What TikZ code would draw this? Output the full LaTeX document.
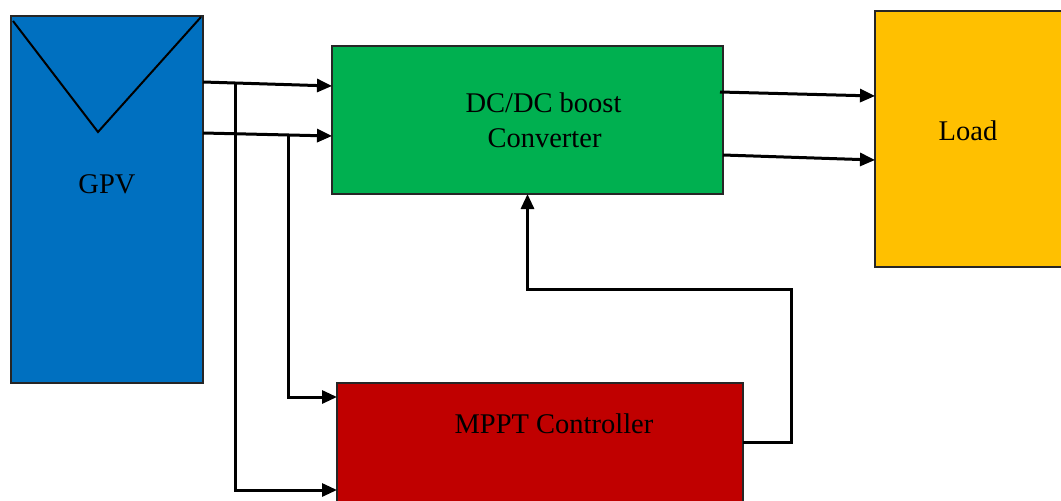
\documentclass[tikz,border=0pt]{standalone}
\usepackage{fontspec}
\setmainfont{Liberation Serif}
\usetikzlibrary{arrows.meta}
\definecolor{gpvblue}{HTML}{0070C0}
\definecolor{dcgreen}{HTML}{00B050}
\definecolor{loadgold}{HTML}{FFC000}
\definecolor{mpptred}{HTML}{C00000}
\tikzset{
  blockbox/.style={draw=black!85, line width=1.3pt, inner sep=0pt, outer sep=0pt},
  lbl/.style={anchor=base, inner sep=0pt, font=\fontsize{28.5}{34}\selectfont},
  arr/.style={line width=3pt, -{Triangle[length=15pt,width=13pt]}},
  wire/.style={line width=3pt}
}
\begin{document}
\begin{tikzpicture}[x=1pt,y=-1pt]
\clip (0,0) rectangle (1061,501);
\fill[white] (0,0) rectangle (1061,501);
% blocks
\node[blockbox, fill=gpvblue, minimum width=192pt, minimum height=367pt] (GPV) at (107,199.5) {};
\node[blockbox, fill=dcgreen, minimum width=391pt, minimum height=148pt] (DC) at (527.5,120) {};
\node[blockbox, fill=loadgold, minimum width=200pt, minimum height=256pt] (LOAD) at (975,139) {};
\node[blockbox, fill=mpptred, minimum width=406pt, minimum height=140pt] (MPPT) at (540,453) {};
% triangle symbol inside GPV
\coordinate (tl) at ([xshift=2pt,yshift=-5pt]GPV.north west);
\coordinate (tb) at (98,132);
\coordinate (tr) at ([xshift=-2pt,yshift=-1pt]GPV.north east);
\draw[line width=2pt, line join=miter] (tl) -- (tb) -- (tr);
% texts
\node[lbl] (tGPV) at (107,193) {GPV};
\node[lbl] (tDC1) at (543.5,112) {DC/DC boost};
\node[lbl] (tDC2) at (544.5,147) {Converter};
\node[lbl] (tLOAD) at (968,140) {Load};
\node[lbl] (tMPPT) at (554,433) {MPPT Controller};
% GPV -> DC
\draw[arr] ([yshift=-66pt]GPV.north east) -- ([yshift=-40pt]DC.north west);
\draw[arr] ([yshift=-117pt]GPV.north east) -- ([yshift=-90pt]DC.north west);
% GPV -> MPPT
\draw[arr, rounded corners=0pt] ([xshift=32pt,yshift=-67pt]GPV.north east) |- ([yshift=-107pt]MPPT.north west);
\draw[arr] ([xshift=85pt,yshift=-118pt]GPV.north east) |- ([yshift=-14pt]MPPT.north west);
% DC -> Load
\draw[arr] ([xshift=-3pt,yshift=-46pt]DC.north east) -- ([yshift=-85pt]LOAD.north west);
\draw[arr] ([yshift=-109pt]DC.north east) -- ([yshift=-149pt]LOAD.north west);
% MPPT -> DC feedback
\draw[arr] ([yshift=-59pt]MPPT.north east) -| ([xshift=263.5pt,yshift=-95pt]DC.south) -| (DC.south);
\end{tikzpicture}
\end{document}
